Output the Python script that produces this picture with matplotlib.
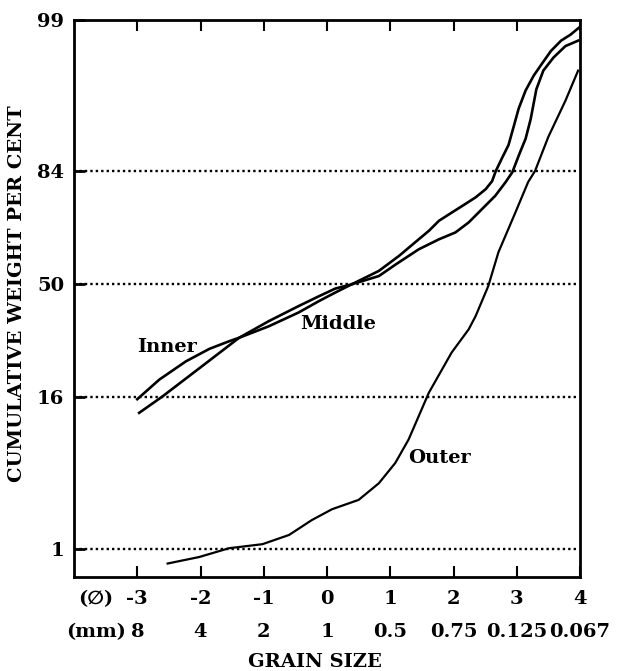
import math
import numpy as np
import matplotlib.pyplot as plt
from matplotlib.transforms import blended_transform_factory

# grain size (phi) and cumulative weight per cent
inner_phi = [-3.0, -2.65, -2.23, -1.86, -1.55, -1.39, -0.92, -0.45, -0.13, 0.13, 0.39,
             0.82, 1.14, 1.45, 1.61, 1.77, 1.98, 2.14, 2.35, 2.51, 2.61, 2.67, 2.76,
             2.87, 2.95, 3.03, 3.14, 3.27, 3.40, 3.54, 3.70, 3.85, 3.98]
inner_pct = [15.6, 20.1, 24.9, 28.5, 30.8, 31.9, 37.3, 42.4, 45.8, 48.5, 50.0,
             54.7, 59.9, 65.4, 68.1, 71.2, 73.7, 75.5, 77.8, 79.9, 81.8, 84.1, 86.5,
             89.0, 91.7, 93.9, 95.6, 96.7, 97.4, 98.0, 98.4, 98.6, 98.8]

middle_phi = [-2.97, -2.61, -1.98, -1.39, -0.92, -0.45, -0.13, 0.13, 0.39,
              0.82, 1.09, 1.45, 1.77, 2.03, 2.24, 2.45, 2.66, 2.82, 2.93,
              3.04, 3.14, 3.22, 3.31, 3.42, 3.58, 3.77, 3.97]
middle_pct = [12.9, 16.1, 23.5, 31.9, 35.6, 40.2, 44.1, 47.1, 50.0,
              52.9, 57.0, 62.1, 65.4, 67.6, 70.7, 74.6, 78.2, 81.5, 83.8,
              87.4, 90.0, 92.7, 95.7, 97.0, 97.7, 98.2, 98.4]

outer_phi = [-2.52, -2.02, -1.55, -1.02, -0.60, -0.24, 0.08, 0.50, 0.82, 1.08, 1.29,
             1.45, 1.61, 1.97, 2.24, 2.35, 2.55, 2.71, 2.98, 3.18, 3.29, 3.50, 3.77, 3.97]
outer_pct = [0.70, 0.82, 1.01, 1.11, 1.37, 1.90, 2.39, 2.89, 4.0, 5.8, 8.6,
             12.3, 17.0, 27.4, 34.6, 39.0, 49.4, 61.1, 73.7, 81.6, 84.1, 90.3, 94.7, 97.0]

phi_ticks = [-3, -2, -1, 0, 1, 2, 3, 4]
mm_labels = ['8', '4', '2', '1', '0.5', '0.75', '0.125', '0.067']
pct_ticks = [1, 16, 50, 84, 99]
grid_pct = [1, 16, 50, 84]

# probability (normal) scale for the y axis
_z = np.linspace(-5, 5, 4001)
_p = 50.0 * (1.0 + np.vectorize(math.erf)(_z / math.sqrt(2)))


def forward(p):
    return np.interp(np.asarray(p, dtype=float), _p, _z)


def inverse(z):
    return np.interp(np.asarray(z, dtype=float), _z, _p)


font = {'family': ['DejaVu Serif', 'DejaVu Sans'], 'weight': 'bold', 'size': 14}

fig = plt.figure(figsize=(6.17, 6.71), dpi=100)
ax = fig.add_axes([74 / 617, 1 - 577 / 671, 506 / 617, 557 / 671])
ax.set_yscale('function', functions=(forward, inverse))
ax.set_xlim(-4, 4)
ax.set_ylim(0.5, 99)

for y in grid_pct:
    ax.axhline(y, xmin=0, xmax=0.994, color='black', lw=1.7, linestyle=(0, (1, 1.3)))

ax.plot(inner_phi, inner_pct, color='black', lw=1.9)
ax.plot(middle_phi, middle_pct, color='black', lw=1.9)
ax.plot(outer_phi, outer_pct, color='black', lw=1.6)

ax.text(-3.0, 29.2, 'Inner', fontdict=font, ha='left', va='center')
ax.text(-0.42, 36.2, 'Middle', fontdict=font, ha='left', va='center')
ax.text(1.29, 6.3, 'Outer', fontdict=font, ha='left', va='center')

for s in ax.spines.values():
    s.set_linewidth(2)

ax.set_xticks(phi_ticks)
ax.set_xticklabels([])
ax.tick_params(axis='x', direction='in', length=8, width=1.5, top=True)
ax.set_yticks(pct_ticks)
ax.set_yticklabels([str(v) for v in pct_ticks], fontdict=font)
ax.yaxis.set_minor_locator(plt.NullLocator())
ax.tick_params(axis='y', direction='in', length=8, width=2, pad=7)

trans = blended_transform_factory(ax.transData, ax.transAxes)
for x, lab in zip(phi_ticks, phi_ticks):
    ax.text(x, -0.0395, str(lab), fontdict=font, ha='center', va='center', transform=trans)
for x, lab in zip(phi_ticks, mm_labels):
    ax.text(x, -0.0987, lab, fontdict=font, ha='center', va='center', transform=trans)

fig.text(96 / 617, 1 - 599 / 671, '(\u2205)', fontdict=font, ha='center', va='center')
fig.text(96 / 617, 1 - 632 / 671, '(mm)', fontdict=font, ha='center', va='center')
fig.text(315 / 617, 1 - 662 / 671, 'GRAIN SIZE', fontdict=font, ha='center', va='center')
fig.text(17.5 / 617, 1 - 294 / 671, 'CUMULATIVE WEIGHT PER CENT', fontdict=font,
         ha='center', va='center', rotation=90)

fig.savefig('out.png', dpi=100)
